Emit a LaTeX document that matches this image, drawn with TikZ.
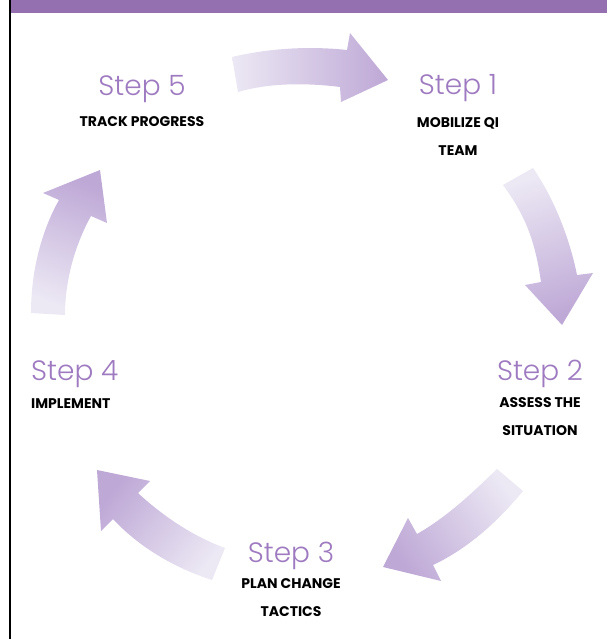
\documentclass[tikz,border=0pt]{standalone}
\usepackage{fontspec}
\setmainfont{Poppins}
\newfontfamily\titlefont{Poppins}[UprightFont=* Light]
\usepackage{tikz}
\usetikzlibrary{positioning}
\definecolor{barpurple}{RGB}{148,112,176}
\definecolor{steppurple}{RGB}{158,122,192}
\definecolor{arrowlight}{RGB}{236,232,244}
\definecolor{arrowdark}{RGB}{190,168,214}
\tikzset{
        steptitle/.style={inner sep=0pt, text=steppurple,
                          font=\titlefont\fontsize{28}{32}\selectfont},
        steplabel/.style={inner sep=0pt, align=center,
                          font=\bfseries\fontsize{14}{28}\selectfont},
        bigarrow/.style={top color=arrowlight, bottom color=arrowdark,
                         shading angle=#1},
}

\begin{document}
\begin{tikzpicture}[x=1pt, y=-1pt]
    \useasboundingbox (0,0) rectangle (607,639);
    \fill[barpurple] (10,0) rectangle (607,13);
    \draw[line width=1.2pt] (10,0) -- (10,639);

    \node[steptitle, anchor=base] (s1) at (458,95) {Step 1};
    \node[steptitle, anchor=base] (s2) at (540,380) {Step 2};
    \node[steptitle, anchor=base] (s3) at (291,562) {Step 3};
    \node[steptitle, anchor=base west] (s4) at (31,380) {Step 4};
    \node[steptitle, anchor=base] (s5) at (142,96) {Step 5};

    \node[steplabel, below=22pt of s1.base] (t1) {MOBILIZE QI\\TEAM};
    \node[steplabel, below=17pt of s2.base] (t2) {ASSESS THE\\SITUATION};
    \node[steplabel, below=16pt of s3.base] (t3) {PLAN CHANGE\\TACTICS};
    \node[steplabel, below=18pt of s4.base west, anchor=north west] (t4) {IMPLEMENT};
    \node[steplabel, below=20pt of s5.base] (t5) {TRACK PROGRESS};

    \shade[bigarrow=90]
        (232,57) .. controls (270,48) and (310,46) .. (347,50)
        -- (350,33) -- (388,80) -- (341,102) -- (340,87)
        .. controls (300,82) and (265,84) .. (238,92) -- cycle;
    \shade[bigarrow=18]
        (533,168) .. controls (555,200) and (570,240) .. (577,275)
        -- (593,273) -- (562,325) -- (525,285) -- (541,282)
        .. controls (535,240) and (525,215) .. (503,185) -- cycle;
    \shade[bigarrow=-56]
        (523,491) .. controls (495,525) and (465,550) .. (433,565)
        -- (441,581) -- (383,567) -- (408,518) -- (417,534)
        .. controls (450,515) and (475,490) .. (497,469) -- cycle;
    \shade[bigarrow=-128]
        (212,580) .. controls (175,568) and (140,548) .. (113,519)
        -- (101,531) -- (97,470) -- (150,481) -- (138,493)
        .. controls (165,518) and (195,537) .. (225,548) -- cycle;
    \shade[bigarrow=159]
        (31,313) .. controls (31,270) and (42,230) .. (59,200)
        -- (43,193) -- (100,170) -- (107,223) -- (91,216)
        .. controls (75,245) and (65,280) .. (65,315) -- cycle;
\end{tikzpicture}
\end{document}
